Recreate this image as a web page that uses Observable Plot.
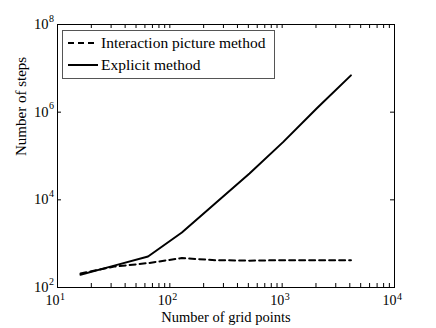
<!DOCTYPE html>
<html><head><meta charset="utf-8">
<script src="https://cdn.jsdelivr.net/npm/d3@7"></script>
<script src="https://cdn.jsdelivr.net/npm/@observablehq/plot@0.6"></script>
<style>
body{margin:0;background:#fff}
#wrap{position:relative;width:436px;height:328px;font-family:"Liberation Serif","Times New Roman",serif}
#legend{position:absolute;left:62px;top:30px;width:211px;height:47px;border:1px solid #555;background:#fff;font-size:15.5px}
#legend .row{position:absolute;left:0;height:20px;display:flex;align-items:center}
#legend svg{margin-left:5px;margin-right:3px}
</style>
</head><body><div id="wrap"></div>
<script>
const gridPoints = [16, 32, 64, 128, 256, 512, 1024, 2048, 4096];
const interactionSteps = [210, 300, 360, 470, 420, 410, 420, 420, 420];
const explicitSteps = [195, 315, 510, 1800, 8500, 40000, 210000, 1240000, 6900000];
const seriesNames = ["Interaction picture method", "Explicit method"];
const xMajorTicks = [10, 100, 1000, 10000];
const xTickExponents = ["1", "2", "3", "4"];
const yMajorTicks = [1e2, 1e4, 1e6, 1e8];
const yTickExponents = ["2", "4", "6", "8"];
const xLabel = "Number of grid points";
const yLabel = "Number of steps";

const fontFamily = '"Liberation Serif", "Times New Roman", serif';
const W = 436, H = 328, mL = 57, mR = 42, mT = 24, mB = 41;
const fw = W - mL - mR, fh = H - mT - mB;
const tick = 4;
const xAllTicks = d3.scaleLog().domain([10, 1e4]).ticks();

const interaction = gridPoints.map((g, i) => ({g, s: interactionSteps[i]}));
const explicit = gridPoints.map((g, i) => ({g, s: explicitSteps[i]}));

const chart = Plot.plot({
  width: W, height: H, marginLeft: mL, marginRight: mR, marginTop: mT, marginBottom: mB,
  style: {fontFamily, fontSize: "14px", background: "white", color: "black"},
  x: {type: "log", domain: [10, 1e4], axis: null},
  y: {type: "log", domain: [1e2, 1e8], axis: null},
  marks: [
    Plot.ruleX(xAllTicks, {x: d => d, insetTop: fh - tick, stroke: "black"}),
    Plot.ruleX(xAllTicks, {x: d => d, insetBottom: fh - tick, stroke: "black"}),
    Plot.ruleY(yMajorTicks, {y: d => d, insetRight: fw - tick, stroke: "black"}),
    Plot.ruleY(yMajorTicks, {y: d => d, insetLeft: fw - tick, stroke: "black"}),
    Plot.line(interaction, {x: "g", y: "s", stroke: "black", strokeWidth: 2, strokeDasharray: "6,4"}),
    Plot.line(explicit, {x: "g", y: "s", stroke: "black", strokeWidth: 2}),
    Plot.frame({stroke: "black"}),
    Plot.text(xMajorTicks, {x: d => d, frameAnchor: "bottom", text: () => "10", dy: 17.5, dx: 2, textAnchor: "end", fontSize: 14}),
    Plot.text(xMajorTicks, {x: d => d, frameAnchor: "bottom", text: (d, i) => xTickExponents[i], dy: 12, dx: 2.5, textAnchor: "start", fontSize: 10}),
    Plot.text(yMajorTicks, {y: d => d, frameAnchor: "left", text: () => "10", dx: -9, textAnchor: "end", fontSize: 14.5}),
    Plot.text(yMajorTicks, {y: d => d, frameAnchor: "left", text: (d, i) => yTickExponents[i], dx: -8.5, dy: -6, textAnchor: "start", fontSize: 10}),
    Plot.text([xLabel], {frameAnchor: "bottom", text: d => d, dy: 34, fontSize: 14.5}),
    Plot.text([yLabel], {frameAnchor: "left", text: d => d, dx: -36, rotate: -90, fontSize: 15})
  ]
});
const wrap = document.getElementById("wrap");
wrap.appendChild(chart);

const legend = document.createElement("div");
legend.id = "legend";
const dashes = ["6,4", null];
seriesNames.forEach((name, i) => {
  const row = document.createElement("div");
  row.className = "row";
  row.style.top = (i === 0 ? 2 : 24) + "px";
  row.innerHTML = `<svg width="30" height="6"><line x1="0" y1="3" x2="30" y2="3" stroke="black" stroke-width="2" ${dashes[i] ? `stroke-dasharray="${dashes[i]}"` : ""}/></svg><span>${name}</span>`;
  legend.appendChild(row);
});
wrap.appendChild(legend);
</script>
</body></html>
